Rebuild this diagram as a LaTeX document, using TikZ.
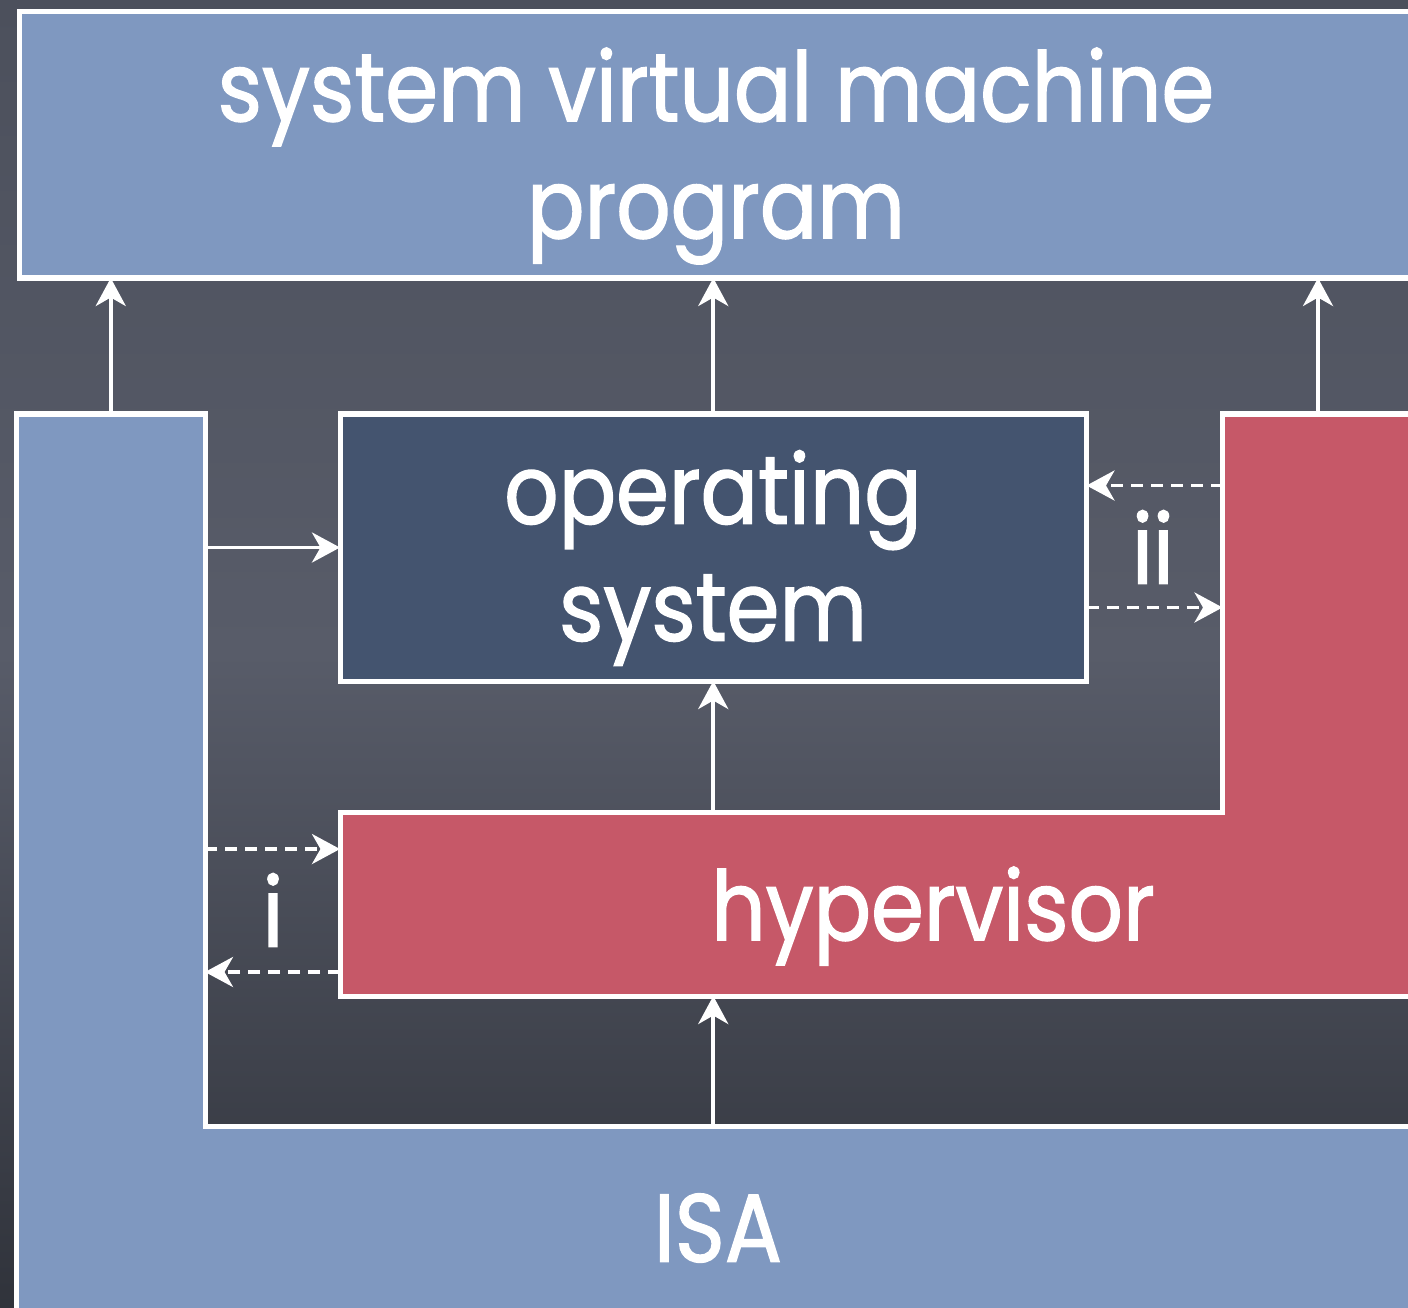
\documentclass[tikz,border=0pt]{standalone}
\usepackage{fontspec}
\setmainfont[FakeStretch=0.88, FakeBold=1.4]{Poppins}
\usetikzlibrary{arrows.meta,fit,calc}

\definecolor{slatetop}{HTML}{4C505C}
\definecolor{slatemid}{HTML}{585C69}
\definecolor{slatebot}{HTML}{30333B}
\definecolor{paleblue}{HTML}{7F98C0}
\definecolor{osblue}{HTML}{44546F}
\definecolor{hvred}{HTML}{C65868}

\tikzset{
  region/.style={inner sep=0pt, outer sep=0pt, draw=none},
  framed/.style={draw=white, line width=2.85pt, line join=miter},
  txt/.style={align=center, text=white, font=\fontsize{55}{66.6}\selectfont},
  conn/.style={draw=white, line width=2.2pt,
    -{Stealth[length=0.56cm, width=0.6cm, inset=0.17cm]}},
  dconn/.style={conn, dash pattern=on 0.24cm off 0.16cm},
}

\begin{document}
\begin{tikzpicture}[x=0.02cm, y=-0.02cm]
  \useasboundingbox (0,0) rectangle (1408,1307);
  \clip (0,0) rectangle (1408,1307);

  % slate backdrop
  \shade[top color=slatetop, bottom color=slatebot, middle color=slatemid]
    (0,0) rectangle (1408,1307);

  % system virtual machine program
  \node[region, fill=paleblue, fit={(19.5,12) (1430,278)}] (vm) {};
  \draw[framed] (vm.south east) -- (vm.south west) -- (vm.north west) -- (vm.north east);
  \node[txt] (vmtext) at (716,156) {system virtual machine\\program};

  % ISA: left column plus bottom band
  \node[region, fill=paleblue, fit={(16.5,414) (205,1400)}] (isacol) {};
  \node[region, fill=paleblue, fit={(16.5,1126) (1430,1400)}] (isabar) {};
  \draw[framed] (isacol.south west) -- (isacol.north west) -- (isacol.north east)
    -- (isacol.east |- isabar.north) -- (isabar.north east);
  \node[txt] (isatext) at (718,1228) {ISA};

  % operating system
  \node[region, fill=osblue, draw=white, line width=2.85pt,
        fit={(340,414) (1086.5,681)}] (os) {};
  \node[txt] (ostext) at (713,558) {operating\\system};

  % hypervisor: bar plus right arm
  \node[region, fill=hvred, fit={(340,812) (1430,996)}] (hvbar) {};
  \node[region, fill=hvred, fit={(1222.5,414) (1413.5,812)}] (hvarm) {};
  \draw[framed] (hvbar.south east) -- (hvbar.south west) -- (hvbar.north west)
    -- (hvarm.south west) -- (hvarm.north west) -- (hvarm.north east);
  \node[txt] (hvtext) at (933,916) {hypervisor};

  % upward flows into the program box
  \draw[conn] (isacol.north) -- (isacol.north |- vm.south);
  \draw[conn] (os.north) -- (os.north |- vm.south);
  \draw[conn] (hvarm.north) -- (hvarm.north |- vm.south);

  % direct path from ISA into the operating system
  \draw[conn] (os.west -| isacol.east) -- (os.west);

  % hypervisor supports the operating system, ISA supports the hypervisor
  \draw[conn] (os.south |- hvbar.north) -- (os.south);
  \draw[conn] (os.south |- isabar.north) -- (os.south |- hvbar.south);

  % trap i: between ISA and hypervisor
  \draw[dconn] ([yshift=1.1cm]hvbar.west -| isacol.east) -- ([yshift=1.1cm]hvbar.west);
  \draw[dconn] ([yshift=-1.36cm]hvbar.west) -- ([yshift=-1.36cm]hvbar.west -| isacol.east);
  \node[txt] (lbli) at (273,910) {i};

  % trap ii: between operating system and hypervisor
  \draw[dconn] ([yshift=1.24cm]os.east -| hvarm.west) -- ([yshift=1.24cm]os.east);
  \draw[dconn] ([yshift=-1.2cm]os.east) -- ([yshift=-1.2cm]os.east -| hvarm.west);
  \node[txt] (lblii) at (1153,547) {ii};
\end{tikzpicture}
\end{document}
